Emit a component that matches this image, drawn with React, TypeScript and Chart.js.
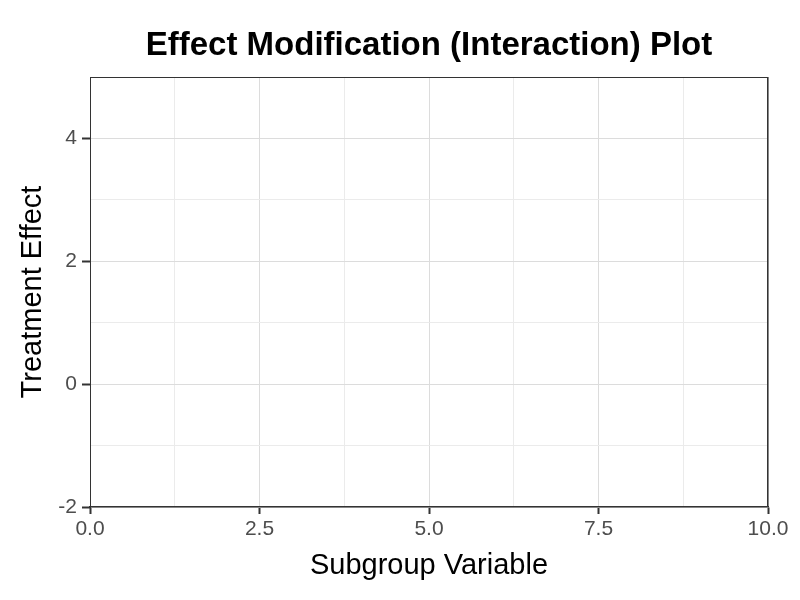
import React, { useEffect, useRef } from "react";
import { Chart, registerables } from "chart.js";

Chart.register(...registerables);

// Data (the reference plot shows an empty panel: no plotted marks)
const subgroupValues: number[] = [];
const treatmentEffects: number[] = [];
const xMajorTicks = [0, 2.5, 5, 7.5, 10];
const yMajorTicks = [-2, 0, 2, 4];
const xRange = [0, 10];
const yRange = [-2, 5];
const titleText = "Effect Modification (Interaction) Plot";
const xTitle = "Subgroup Variable";
const yTitle = "Treatment Effect";

const FONT = "'Liberation Sans', Arial, Helvetica, sans-serif";

const isMajorX = (v: number) => xMajorTicks.some((t) => Math.abs(t - v) < 1e-6);
const isMajorY = (v: number) => yMajorTicks.some((t) => Math.abs(t - v) < 1e-6);

const framePlugin = {
  id: "frame",
  afterDraw(chart: any) {
    const { ctx, chartArea } = chart;
    const { left, right, top, bottom } = chartArea;
    ctx.save();
    ctx.strokeStyle = "#333333";
    ctx.lineWidth = 1;
    ctx.beginPath();
    ctx.moveTo(left, top + 0.5);
    ctx.lineTo(right, top + 0.5);
    ctx.stroke();
    ctx.lineWidth = 1.5;
    ctx.beginPath();
    ctx.moveTo(right - 0.25, top);
    ctx.lineTo(right - 0.25, bottom);
    ctx.stroke();
    ctx.restore();
    // title
    ctx.save();
    ctx.fillStyle = "#000000";
    ctx.font = `bold 33px ${FONT}`;
    ctx.textAlign = "center";
    ctx.textBaseline = "middle";
    ctx.fillText(titleText, (left + right) / 2, 46);
    ctx.restore();
  },
};

export default function App() {
  const ref = useRef<HTMLCanvasElement | null>(null);
  useEffect(() => {
    if (!ref.current) return;
    const chart = new Chart(ref.current, {
      type: "scatter",
      data: {
        datasets: [
          {
            label: "Effect",
            data: subgroupValues.map((x, i) => ({ x, y: treatmentEffects[i] })),
            showLine: true,
            borderColor: "#000",
            backgroundColor: "#000",
          },
        ],
      },
      options: {
        animation: false,
        responsive: false,
        devicePixelRatio: 1,
        layout: { padding: { top: 77, right: 32, left: 0, bottom: 0 } },
        plugins: {
          legend: { display: false },
          tooltip: { enabled: false },
          title: { display: false },
        },
        scales: {
          x: {
            type: "linear",
            min: xRange[0],
            max: xRange[1],
            afterFit: (s: any) => {
              s.height = 93;
            },
            afterBuildTicks: (s: any) => {
              const t = [];
              for (let v = xRange[0]; v <= xRange[1] + 1e-9; v += 1.25) t.push({ value: v });
              s.ticks = t;
            },
            ticks: {
              autoSkip: false,
              maxRotation: 0,
              padding: 3,
              color: "#4d4d4d",
              font: { family: FONT, size: 21 },
              callback: (v: any) => (isMajorX(Number(v)) ? Number(v).toFixed(1) : ""),
            },
            grid: {
              color: (c: any) => (isMajorX(c.tick?.value) ? "#dcdcdc" : "#ebebeb"),
              tickColor: (c: any) => (isMajorX(c.tick?.value) ? "#333333" : "rgba(0,0,0,0)"),
              tickLength: 7,
              tickWidth: 2,
              lineWidth: 1,
            },
            border: { display: true, color: "#333333", width: 1.5 },
            title: {
              display: true,
              text: xTitle,
              color: "#000000",
              font: { family: FONT, size: 29 },
              padding: { top: 0, bottom: 17 },
            },
          },
          y: {
            type: "linear",
            min: yRange[0],
            max: yRange[1],
            afterFit: (s: any) => {
              s.width = 90;
            },
            afterBuildTicks: (s: any) => {
              const t = [];
              for (let v = yRange[0]; v <= yRange[1] + 1e-9; v += 1) t.push({ value: v });
              s.ticks = t;
            },
            ticks: {
              autoSkip: false,
              padding: 5,
              color: "#4d4d4d",
              font: { family: FONT, size: 21 },
              callback: (v: any) => (isMajorY(Number(v)) ? String(v) : ""),
            },
            grid: {
              color: (c: any) => (isMajorY(c.tick?.value) ? "#dcdcdc" : "#ebebeb"),
              tickColor: (c: any) => (isMajorY(c.tick?.value) ? "#333333" : "rgba(0,0,0,0)"),
              tickLength: 8,
              tickWidth: 2,
              lineWidth: 1,
            },
            border: { display: true, color: "#333333", width: 1 },
            title: {
              display: true,
              text: yTitle,
              color: "#000000",
              font: { family: FONT, size: 29 },
              padding: { top: 16, bottom: 0 },
            },
          },
        },
      },
      plugins: [framePlugin],
    } as any);
    return () => chart.destroy();
  }, []);
  return (
    <div style={{ position: "absolute", left: 0, top: 0, width: 800, height: 600, background: "#fff" }}>
      <canvas ref={ref} width={800} height={600} />
    </div>
  );
}
